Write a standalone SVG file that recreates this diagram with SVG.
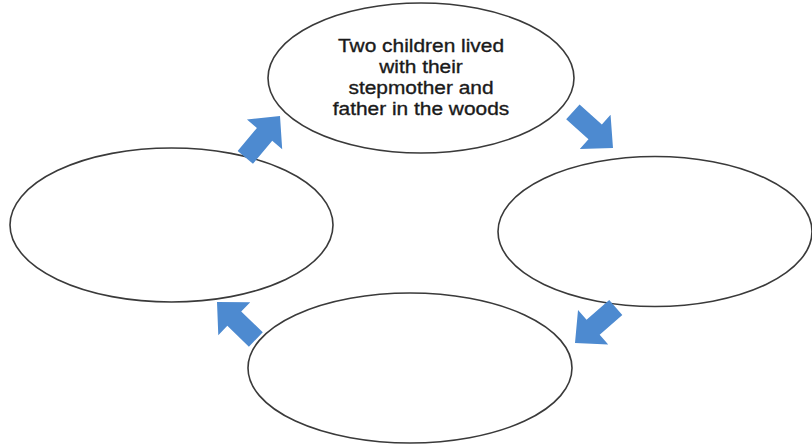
<svg xmlns="http://www.w3.org/2000/svg" width="812" height="444" viewBox="0 0 812 444">
  <style>
    .node { fill: #ffffff; stroke: #3a3a3a; stroke-width: 1.6; }
    .arrow { fill: #4d8ad0; }
    .label { font-family: "Liberation Sans", Arial, sans-serif; font-size: 18.5px; fill: #1a1a1a; stroke: #1a1a1a; stroke-width: 0.35; text-anchor: middle; }
  </style>
  <defs>
    <polygon id="blockArrow" points="-54,-10 -24,-10 -24,-23 0,0 -24,23 -24,10 -54,10"/>
  </defs>
  <rect width="812" height="444" fill="#ffffff"/>

  <g id="node-top">
    <ellipse class="node" cx="421" cy="78" rx="153" ry="75"/>
    <g transform="translate(421 0) scale(1.13 1)">
      <text class="label" x="0" y="52">Two children lived</text>
      <text class="label" x="0" y="73">with their</text>
      <text class="label" x="0" y="94">stepmother and</text>
      <text class="label" x="0" y="115">father in the woods</text>
    </g>
  </g>

  <g id="node-right">
    <ellipse class="node" cx="655" cy="231.5" rx="157" ry="75"/>
  </g>

  <g id="node-bottom">
    <ellipse class="node" cx="410" cy="368" rx="162" ry="75"/>
  </g>

  <g id="node-left">
    <ellipse class="node" cx="171.5" cy="225" rx="161.5" ry="77"/>
  </g>

  <g id="connectors">
    <use href="#blockArrow" class="arrow" transform="translate(280 116) rotate(-50)"/>
    <use href="#blockArrow" class="arrow" transform="translate(613 148) rotate(42)"/>
    <use href="#blockArrow" class="arrow" transform="translate(575 343) rotate(139)"/>
    <use href="#blockArrow" class="arrow" transform="translate(217 302) rotate(-136)"/>
  </g>
</svg>
